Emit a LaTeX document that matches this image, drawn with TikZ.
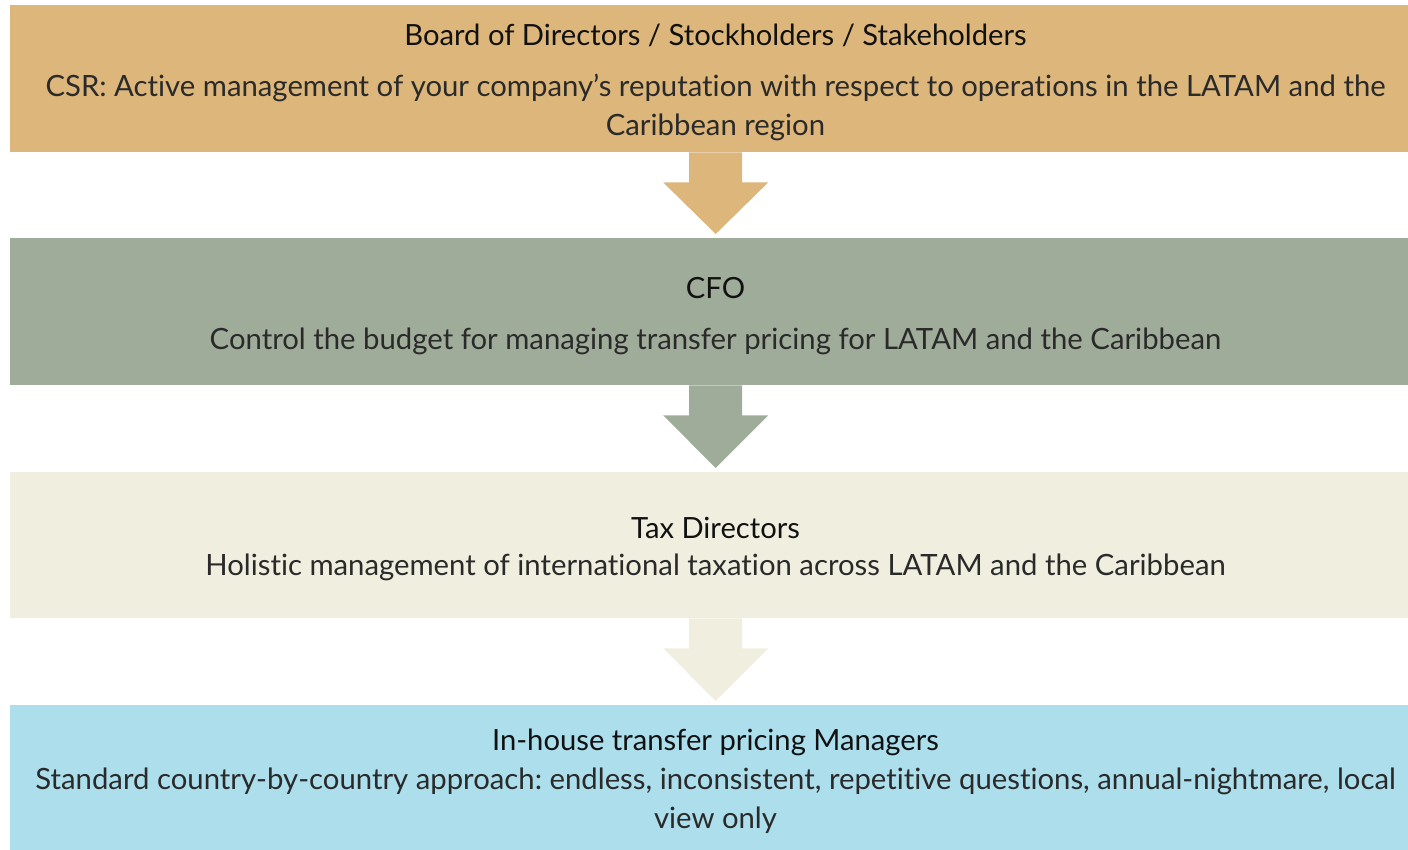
\documentclass[tikz,border=0pt]{standalone}
\usepackage{fontspec}
\setmainfont{Lato}[Ligatures=NoCommon]
\frenchspacing
\usetikzlibrary{calc}
\definecolor{cA}{HTML}{DCB67A}
\definecolor{cB}{HTML}{A0AC9A}
\definecolor{cC}{HTML}{F0EFDF}
\definecolor{cD}{HTML}{ACDEEC}
\definecolor{txt}{HTML}{111111}
\definecolor{txtb}{HTML}{2A2A2A}
\tikzset{
  band/.style={draw=none,inner sep=0pt,minimum width=1411pt,minimum height=147pt,anchor=north west},
  ttl/.style={text=txt,font=\fontsize{29.2}{39}\selectfont,inner sep=0pt},
  bdy/.style={text=txtb,font=\fontsize{29.3}{39}\selectfont,inner sep=0pt,align=center},
}
\newcommand{\flowarrow}[3]{%
  \fill[#3] ($(#1.south)+(-26.5,0)$) -- ($(#1.south)+(26.5,0)$) -- ($(#1.south)+(26.5,30)$)
    -- ($(#1.south)+(52.5,30)$) -- ($(#2.north)+(0,-4)$) -- ($(#1.south)+(-52.5,30)$)
    -- ($(#1.south)+(-26.5,30)$) -- cycle;}
\begin{document}
\begin{tikzpicture}[x=1pt,y=-1pt]
\useasboundingbox (0,0) rectangle (1408,849);
\clip (0,0) rectangle (1408,849);
\node[band,fill=cA] (b1) at (10,5) {};
\node[band,fill=cB] (b2) at (10,238) {};
\node[band,fill=cC,minimum height=146pt] (b3) at (10,472) {};
\node[band,fill=cD] (b4) at (10,705) {};
\flowarrow{b1}{b2}{cA}
\flowarrow{b2}{b3}{cB}
\flowarrow{b3}{b4}{cC}
\node[ttl] (t1) at (715.5,35) {Board of Directors / Stockholders / Stakeholders};
\node[bdy] (d1) at (715.5,107.5) {CSR: Active management of your company’s reputation with respect to operations in the LATAM and the\\Caribbean region};
\node[ttl] (t2) at (715.5,288) {CFO};
\node[bdy] (d2) at (715.5,341) {Control the budget for managing transfer pricing for LATAM and the Caribbean};
\node[ttl] (t3) at (715.5,528) {Tax Directors};
\node[bdy] (d3) at (715.5,567) {Holistic management of international taxation across LATAM and the Caribbean};
\node[ttl] (t4) at (715.5,742) {In-house transfer pricing Managers};
\node[bdy] (d4) at (715.5,800.5) {Standard country-by-country approach: endless, inconsistent, repetitive questions, annual-nightmare, local\\view only};
\end{tikzpicture}
\end{document}
